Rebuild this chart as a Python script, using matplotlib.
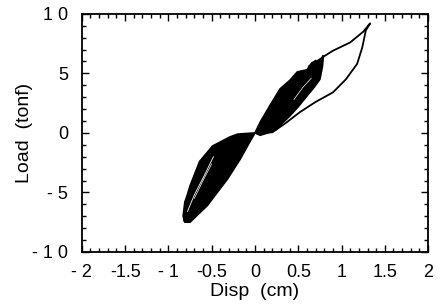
import matplotlib
matplotlib.use("Agg")
import matplotlib.pyplot as plt
from matplotlib.ticker import MultipleLocator

plt.rcParams['font.family'] = ['Liberation Sans', 'DejaVu Sans']

# Dense band of repeated cycles (envelope), positive side
pos_band_x = [0.0, 0.06, 0.17, 0.29, 0.40, 0.49, 0.60, 0.66, 0.72, 0.77, 0.79, 0.78, 0.75, 0.68, 0.60, 0.50, 0.40, 0.30, 0.25, 0.15, 0.06, 0.0]
pos_band_y = [0.0, 0.9, 2.27, 3.7, 4.4, 5.13, 5.3, 5.9, 6.05, 6.3, 6.5, 5.6, 4.5, 3.8, 3.1, 2.2, 1.4, 0.7, 0.3, 0.0, -0.2, 0.0]
# Dense band, negative side
neg_band_x = [0.0, -0.10, -0.20, -0.29, -0.49, -0.64, -0.75, -0.79, -0.81, -0.83, -0.81, -0.75, -0.55, -0.32, -0.17, -0.06, 0.0]
neg_band_y = [0.0, -0.05, -0.1, -0.34, -1.1, -2.4, -4.45, -5.4, -5.8, -7.0, -7.5, -7.5, -6.1, -3.9, -2.2, -0.76, 0.0]

# Largest (final) cycle
big_x = [0.0, 0.10, 0.20, 0.35, 0.52, 0.70, 0.90, 1.05, 1.18, 1.24, 1.28, 1.33, 1.25, 1.10, 0.90, 0.79]
big_y = [0.0, 0.0, 0.05, 0.8, 1.75, 2.6, 3.4, 4.5, 5.8, 7.2, 8.6, 9.2, 8.5, 7.6, 6.9, 6.4]

# Inner loop traces near the peaks
loop1_x = [0.62, 0.70, 0.75, 0.74, 0.70, 0.66]
loop1_y = [5.6, 6.1, 5.7, 4.8, 4.5, 4.9]
loop2_x = [-0.82, -0.80, -0.72, -0.62, -0.55]
loop2_y = [-7.4, -5.9, -5.6, -4.3, -2.6]
loop3_x = [-0.78, -0.70, -0.58, -0.48]
loop3_y = [-6.6, -5.2, -3.5, -2.0]

xticks = [-2, -1.5, -1, -0.5, 0, 0.5, 1, 1.5, 2]
xticklabels = ['- 2', '-1.5', '- 1', '-0.5', '0', '0.5', '1', '1.5', '2']
yticks = [-10, -5, 0, 5, 10]
yticklabels = ['- 1 0', '- 5', '0', '5', '1 0']

fig = plt.figure(figsize=(4.4, 3.08), dpi=100)
ax = fig.add_axes([0.186, 0.182, 0.787, 0.773])

ax.fill(pos_band_x, pos_band_y, color='black', lw=1.2)
ax.fill(neg_band_x, neg_band_y, color='black', lw=1.2)
ax.plot(big_x, big_y, color='black', lw=1.3)
ax.plot(loop1_x, loop1_y, color='black', lw=1.0)
ax.plot(loop2_x, loop2_y, color='black', lw=1.0)
ax.plot(loop3_x, loop3_y, color='white', lw=0.6)
ax.plot([-0.70, -0.60, -0.50], [-5.5, -4.0, -2.6], color='white', lw=0.5)
ax.plot([0.45, 0.55, 0.65], [2.8, 3.8, 4.6], color='white', lw=0.5)

ax.set_xlim(-2, 2)
ax.set_ylim(-10, 10)
ax.set_xticks(xticks)
ax.set_xticklabels(xticklabels)
ax.set_yticks(yticks)
ax.set_yticklabels(yticklabels)
ax.xaxis.set_minor_locator(MultipleLocator(0.1))
ax.yaxis.set_minor_locator(MultipleLocator(1))
ax.tick_params(which='both', direction='in', top=True, right=True, width=1.0, labelsize=13)
ax.tick_params(axis='x', which='major', length=5, pad=9)
ax.tick_params(axis='y', which='major', length=5, pad=10)
ax.tick_params(which='minor', length=3)
for s in ax.spines.values():
    s.set_linewidth(1.3)

ax.set_xlabel('Disp  (cm)', fontsize=14, labelpad=1)
ax.set_ylabel('Load  (tonf)', fontsize=14)
ax.yaxis.set_label_coords(-0.14, 0.5)

fig.savefig('out.png', dpi=100)
